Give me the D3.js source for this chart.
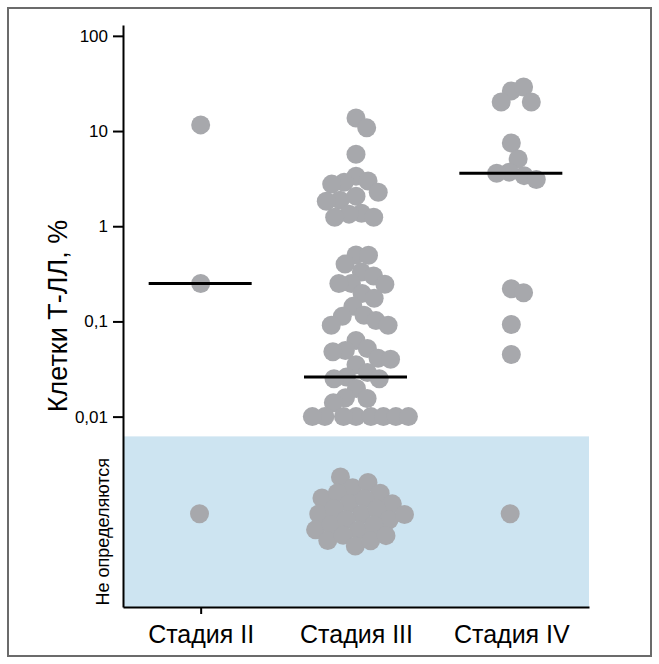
<!DOCTYPE html>
<html>
<head>
<meta charset="utf-8">
<title>Клетки Т-ЛЛ по стадиям</title>
<script src="https://cdn.jsdelivr.net/npm/d3@7/dist/d3.min.js"></script>
<style>
  body { margin: 0; background: #fff; }
  svg { display: block; font-family: "Liberation Sans", Arial, Helvetica, sans-serif; }
  .axis path, .axis line { stroke: #000; stroke-width: 2; }
  .axis text { fill: #000; }
</style>
</head>
<body>
<svg id="chart" width="659" height="664"></svg>
<script>
// categories
var stages = ['Стадия II', 'Стадия III', 'Стадия IV'];

var stage2 = [11.6, 0.25];
var stage3 = [13.7, 10.8, 5.7, 3.36, 2.98, 2.9, 2.77, 2.28, 2.07, 1.88, 1.83, 1.37, 1.34, 1.24, 1.24,
  0.5, 0.495, 0.4, 0.33, 0.3, 0.25, 0.25, 0.246, 0.197, 0.175, 0.144, 0.116, 0.113, 0.102, 0.091, 0.091,
  0.063, 0.052, 0.0495, 0.048, 0.041, 0.04, 0.035, 0.029, 0.026, 0.025, 0.025, 0.0197, 0.0158, 0.0155, 0.014,
  0.01, 0.01, 0.01, 0.01, 0.01, 0.01, 0.01, 0.01];
var stage4 = [26.4, 29, 20.2, 20.2, 7.5, 5.1, 3.7, 3.6, 3.4, 3.1, 0.22, 0.2, 0.093, 0.045];

// number of undetectable samples per stage
var notDetected = [1, 25, 1];

// y tick values and labels
var yTicks = [100, 10, 1, 0.1, 0.01];
var yTickLabels = ['100', '10', '1', '0,1', '0,01'];

var svg = d3.select('#chart');

svg.append('rect')
  .attr('x', 8).attr('y', 8)
  .attr('width', 643).attr('height', 648)
  .attr('fill', 'none')
  .attr('stroke', '#6b6b6b')
  .attr('stroke-width', 2);

var x = d3.scalePoint().domain(stages).range([123, 589]).padding(0.5);
var y = d3.scaleLog().domain([1e-4, 130]).range([607, 25]);
var ndValue = 0.001;   // where undetectable samples sit on the log scale
var ndTop = 0.0062;    // upper edge of the "not detected" band

// not detected band
svg.append('rect')
  .attr('x', x.range()[0])
  .attr('y', y(ndTop))
  .attr('width', x.range()[1] - x.range()[0])
  .attr('height', y(1e-4) - y(ndTop))
  .attr('fill', '#cde4f1');

// beeswarm with an elliptic gap: a points apart sideways, b points apart vertically
function swarm(items, a, b) {
  var placed = [];
  function free(c, it) {
    return placed.every(function(p) {
      var dx = (c - p.off) / a, dy = (it.ty - p.ty) / b;
      return dx * dx + dy * dy >= 0.999;
    });
  }
  items.forEach(function(it) {
    var cands = [0];
    placed.forEach(function(p) {
      var dy = (it.ty - p.ty) / b;
      if (Math.abs(dy) < 1) {
        var dx = a * Math.sqrt(1 - dy * dy);
        cands.push(p.off + dx + 0.01, p.off - dx - 0.01);
      }
    });
    cands.sort((u, v) => Math.abs(u) - Math.abs(v));
    it.off = cands.find(c => free(c, it));
    placed.push(it);
  });
}

var groups = [stage2, stage3, stage4];
var dots = [];
var ndNodes = [];
groups.forEach(function(vals, gi) {
  var cx = x(stages[gi]);
  var items = vals.map(v => ({ stage: gi, value: v, ty: y(v), cx: cx }));
  swarm(items, 12.5, 19);
  items.forEach(function(it) { it.x = it.cx + it.off; it.y = it.ty; dots.push(it); });
  d3.range(notDetected[gi]).forEach(function(i) {
    ndNodes.push({ stage: gi, cx: cx, ty: y(ndValue) + 2,
      x: cx + ((i % 5) - 2) * 9, y: y(ndValue) + (Math.floor(i / 5) - 2) * 7 });
  });
});

// undetectable samples form a loose cluster
var sim = d3.forceSimulation(ndNodes)
  .force('x', d3.forceX(d => d.cx).strength(0.04))
  .force('y', d3.forceY(d => d.ty).strength(0.1))
  .force('collide', d3.forceCollide(8.1).iterations(3))
  .stop();
for (var i = 0; i < 400; i++) sim.tick();

svg.append('g').selectAll('circle')
  .data(dots.concat(ndNodes))
  .enter().append('circle')
  .attr('cx', d => d.x)
  .attr('cy', d => d.y)
  .attr('r', 9.5)
  .attr('fill', '#a7a8ac');

// median lines (undetectable counted as zero)
var medians = groups.map(function(vals, gi) {
  var all = vals.concat(d3.range(notDetected[gi]).map(() => 0));
  return d3.median(all);
});

svg.append('g').selectAll('line')
  .data(medians)
  .enter().append('line')
  .attr('x1', (d, i) => x(stages[i]) - 52)
  .attr('x2', (d, i) => x(stages[i]) + 51)
  .attr('y1', d => y(d))
  .attr('y2', d => y(d))
  .attr('stroke', '#000')
  .attr('stroke-width', 3);

// axes
var yAxis = d3.axisLeft(y)
  .tickValues(yTicks)
  .tickFormat((d, i) => yTickLabels[i])
  .tickSize(10)
  .tickPadding(5)
  .tickSizeOuter(0);

svg.append('g')
  .attr('class', 'axis')
  .attr('transform', 'translate(123,0)')
  .call(yAxis)
  .call(g => g.selectAll('text').attr('font-size', 17).attr('font-family', null));

var xAxis = d3.axisBottom(x).tickSize(7).tickPadding(11).tickSizeOuter(0);

svg.append('g')
  .attr('class', 'axis')
  .attr('transform', 'translate(0,607)')
  .call(xAxis)
  .call(g => g.selectAll('.tick line').filter((d, i) => i > 0).remove())
  .call(g => g.selectAll('text').attr('font-size', 25).attr('font-family', null));

// axis titles
svg.append('text')
  .attr('transform', 'translate(67,316) rotate(-90)')
  .attr('text-anchor', 'middle')
  .attr('font-size', 27)
  .text('Клетки Т-ЛЛ, %');

svg.append('text')
  .attr('transform', 'translate(109,' + ((y(ndTop) + y(1e-4)) / 2 + 10) + ') rotate(-90)')
  .attr('text-anchor', 'middle')
  .attr('font-size', 18)
  .text('Не определяются');
</script>
</body>
</html>
